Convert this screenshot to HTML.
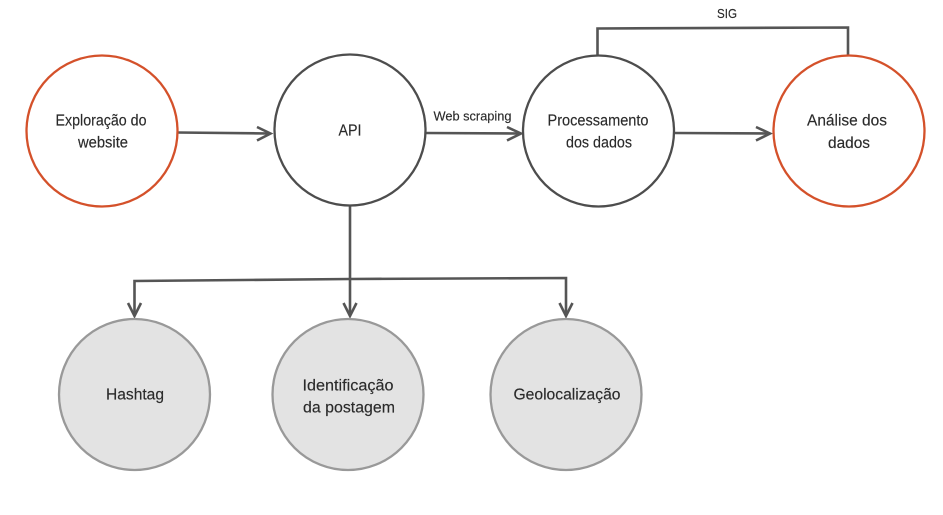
<!DOCTYPE html>
<html>
<head>
<meta charset="utf-8">
<style>
html,body{margin:0;padding:0;background:#fff;width:943px;height:515px;overflow:hidden}
svg{display:block}
text{font-family:"Liberation Sans",sans-serif;font-size:15.5px;fill:#2b2b2b;stroke:#2b2b2b;stroke-width:.15;text-anchor:middle}
text.s{font-size:13px}
</style>
</head>
<body>
<svg width="943" height="515" viewBox="0 0 943 515" xmlns="http://www.w3.org/2000/svg">
<defs><filter id="b" x="-2%" y="-2%" width="104%" height="104%"><feGaussianBlur stdDeviation="0.35"/></filter></defs>
<g filter="url(#b)">
<g fill="none" stroke="#555" stroke-width="2.6">
<path d="M177 132.5L270 133.5"/>
<path d="M257 127L270.500 133.500L257 140.500"/>
<path d="M425 133L521 133.500"/>
<path d="M507 127L521 133.500L507 140.500"/>
<path d="M674 133L770 133.500"/>
<path d="M756 127L770 133.500L756 140.500"/>
<path d="M597.500 55V28.500L848 27.500V55"/>
<path d="M350 205V316"/>
<path d="M134.500 316V281L350 279L566 278V316"/>
<path d="M128 303L134.500 316L141 303"/>
<path d="M343.500 303L350 316L356.500 303"/>
<path d="M559.500 303L566 316L572.500 303"/>
</g>
<g stroke-width="2.3" fill="#fff">
<circle cx="102" cy="131" r="75.500" stroke="#d4512c"/>
<circle cx="350" cy="130" r="75.500" stroke="#4d4d4d"/>
<circle cx="598.500" cy="131" r="75.500" stroke="#4d4d4d"/>
<circle cx="849" cy="131" r="75.500" stroke="#d4512c"/>
</g>
<g stroke-width="2.3" fill="#e3e3e3" stroke="#999">
<circle cx="134.500" cy="394.500" r="75.500"/>
<circle cx="348" cy="394.500" r="75.500"/>
<circle cx="566" cy="394.500" r="75.500"/>
</g>
<text x="101" y="125.500" textLength="91" lengthAdjust="spacingAndGlyphs">Exploração do</text>
<text x="103" y="147.500" textLength="50" lengthAdjust="spacingAndGlyphs">website</text>
<text x="350" y="135.500" textLength="23" lengthAdjust="spacingAndGlyphs">API</text>
<text x="472.500" y="120.500" class="s" textLength="78" lengthAdjust="spacingAndGlyphs">Web scraping</text>
<text x="598" y="125.500" textLength="101" lengthAdjust="spacingAndGlyphs">Processamento</text>
<text x="599" y="147.500" textLength="66" lengthAdjust="spacingAndGlyphs">dos dados</text>
<text x="847" y="125.500" textLength="80" lengthAdjust="spacingAndGlyphs">Análise dos</text>
<text x="849" y="148" textLength="42" lengthAdjust="spacingAndGlyphs">dados</text>
<text x="727" y="18" class="s" textLength="20" lengthAdjust="spacingAndGlyphs">SIG</text>
<text x="135" y="399.500" textLength="58" lengthAdjust="spacingAndGlyphs">Hashtag</text>
<text x="348" y="390.500" textLength="91" lengthAdjust="spacingAndGlyphs">Identificação</text>
<text x="349" y="412.500" textLength="92" lengthAdjust="spacingAndGlyphs">da postagem</text>
<text x="567" y="399.500" textLength="107" lengthAdjust="spacingAndGlyphs">Geolocalização</text>
</g>
</svg>
</body>
</html>
